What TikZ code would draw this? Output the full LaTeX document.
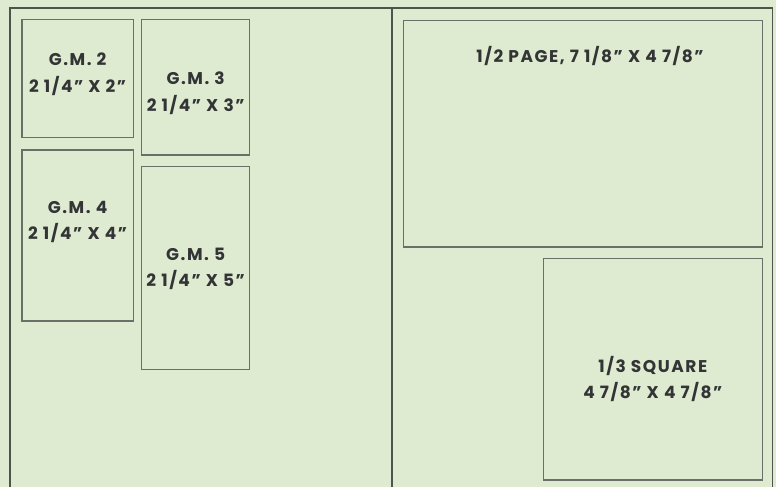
\documentclass[tikz,border=0pt]{standalone}
\usepackage{fontspec}
\setmainfont{Poppins}[LetterSpace=9]
\definecolor{bg}{HTML}{DFEBD0}
\definecolor{frame}{HTML}{4E534C}
\definecolor{boxline}{HTML}{6A6F67}
\definecolor{txt}{HTML}{333436}
\begin{document}
\begin{tikzpicture}[x=1pt,y=-1pt,
  outer/.style={draw=frame,line width=1.6pt},
  adbox/.style={draw=boxline,line width=1.2pt},
  lbl/.style={text=txt,font=\fontsize{17}{26.5}\selectfont\bfseries,align=center,inner sep=0pt}]
\fill[bg] (0,0) rectangle (776,487);
\useasboundingbox (0,0) rectangle (776,487);
% outer frame and divider
\draw[outer] (10,492) -- (10,7.8) -- (772.5,7.8) -- (772.5,492);
\draw[outer] (392,7.8) -- (392,492);
% boxes
\draw[adbox] (22,19.5) rectangle (133.3,137.5) node[pos=0.5] (gm2box) {};
\draw[adbox] (141.8,19.5) rectangle (249.6,155) node[pos=0.5] (gm3box) {};
\draw[adbox] (22,150) rectangle (133.3,321) node[pos=0.5] (gm4box) {};
\draw[adbox] (141.8,166.8) rectangle (249.6,369.2) node[pos=0.5] (gm5box) {};
\draw[adbox] (403.5,20.3) rectangle (762.2,247) node[pos=0.5] (halfbox) {};
\draw[adbox] (543.5,258.5) rectangle (762.2,480) node[pos=0.5] (sqbox) {};
% labels
\node[lbl] (gm2) at (77.6,74) {G.M. 2\\2 1/4” X 2”};
\node[lbl] (gm3) at (195.7,93) {G.M. 3\\2 1/4” X 3”};
\node[lbl] (gm4) at (77.6,222) {G.M. 4\\2 1/4” X 4”};
\node[lbl] (gm5) at (195.7,269) {G.M. 5\\2 1/4” X 5”};
\node[lbl] (half) at (590,56) {1/2 PAGE, 7 1/8” X 4 7/8”};
\node[lbl] (sq) at (652.8,379) {1/3 SQUARE\\4 7/8” X 4 7/8”};
\end{tikzpicture}
\end{document}
